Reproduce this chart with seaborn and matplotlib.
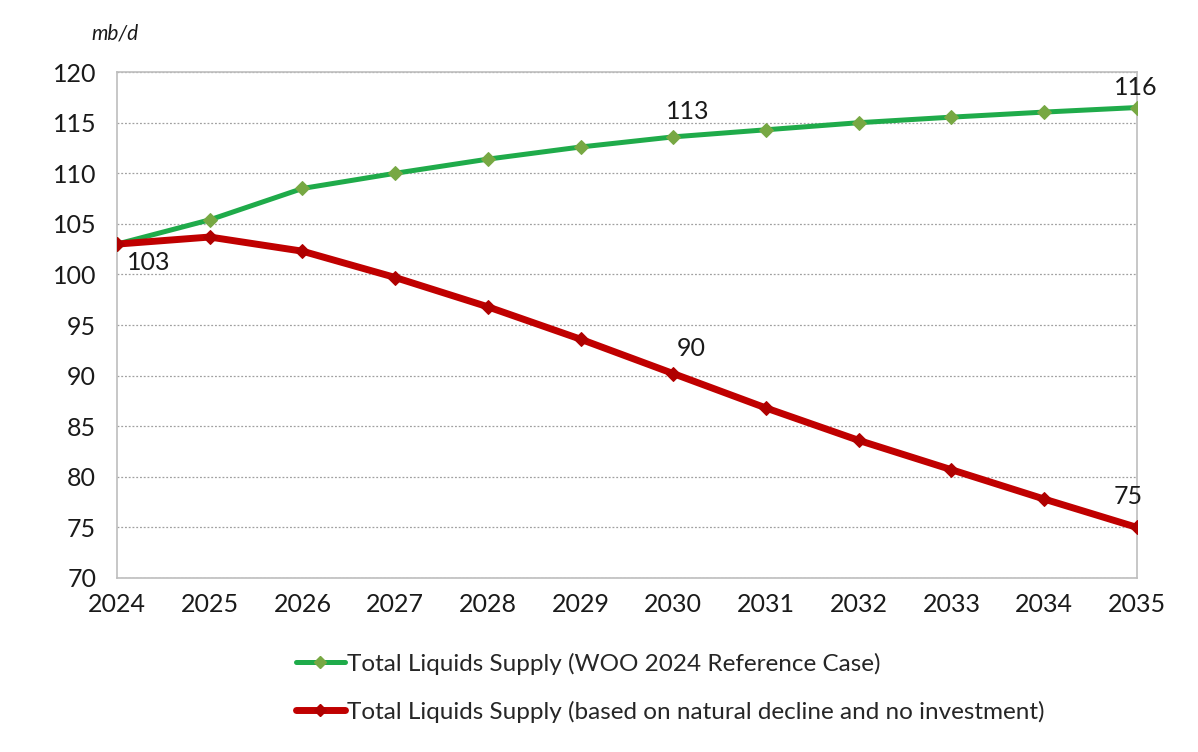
import matplotlib
matplotlib.use("Agg")
import matplotlib.pyplot as plt
import seaborn as sns
import pandas as pd
from matplotlib.lines import Line2D

years = [2024, 2025, 2026, 2027, 2028, 2029, 2030, 2031, 2032, 2033, 2034, 2035]
reference_case = [103.0, 105.4, 108.5, 110.0, 111.4, 112.6, 113.6, 114.3, 115.0, 115.55, 116.05, 116.5]
natural_decline = [103.0, 103.7, 102.3, 99.7, 96.8, 93.6, 90.2, 86.8, 83.6, 80.7, 77.8, 75.0]
series_names = ["Total Liquids Supply (WOO 2024 Reference Case)",
                "Total Liquids Supply (based on natural decline and no investment)"]
y_ticks = [70, 75, 80, 85, 90, 95, 100, 105, 110, 115, 120]

sns.set_theme(style="white")
plt.rcParams['font.family'] = ['Lato', 'DejaVu Sans']

df = pd.DataFrame({
    "year": years * 2,
    "value": reference_case + natural_decline,
    "series": [series_names[0]] * len(years) + [series_names[1]] * len(years),
})

fig = plt.figure(figsize=(11.98, 7.52), dpi=100)
ax = fig.add_axes([0.0977, 0.2314, 0.8513, 0.6727])

line_col = {series_names[0]: "#1fab4a", series_names[1]: "#c00000"}
mark_col = {series_names[0]: "#77a843", series_names[1]: "#b00000"}
lw = {series_names[0]: 3.6, series_names[1]: 5.0}

for name in series_names:
    sub = df[df.series == name]
    sns.lineplot(data=sub, x="year", y="value", ax=ax, color=line_col[name],
                 linewidth=lw[name], marker="D", markersize=7,
                 markerfacecolor=mark_col[name], markeredgecolor=mark_col[name],
                 legend=False, zorder=3 if name == series_names[0] else 4)

ax.set_xlim(years[0], years[-1])
ax.set_ylim(70, 120)
ax.set_yticks(y_ticks)
ax.set_xticks(years)
ax.set_xticklabels([str(y) for y in years], fontsize=18, color="#1a1a1a")
ax.set_yticklabels([str(v) for v in y_ticks], fontsize=18, color="#1a1a1a")
ax.set_xlabel("")
ax.set_ylabel("")
ax.grid(axis="y", linestyle=(0, (1.5, 1.5)), color="#a0a0a0", linewidth=0.9)
for s in ax.spines.values():
    s.set_color("#bdbdbd")
    s.set_linewidth(1.2)
ax.tick_params(axis="x", direction="out", length=6, color="#bdbdbd", width=1.2, pad=5)
ax.tick_params(axis="y", length=0, pad=15)

ax.text(-0.025, 1.065, "mb/d", transform=ax.transAxes, fontsize=15, style="italic", color="#1a1a1a")

ann = dict(fontsize=18, color="#1a1a1a")
ax.annotate("103", (2024, 103.0), xytext=(7, -5), textcoords="offset points", ha="left", va="top", **ann)
ax.annotate("113", (2030, reference_case[6]), xytext=(10, 10), textcoords="offset points", ha="center", va="bottom", **ann)
ax.annotate("116", (2035, reference_case[-1]), xytext=(-1, 6), textcoords="offset points", ha="center", va="bottom", **ann)
ax.annotate("90", (2030, natural_decline[6]), xytext=(13, 10), textcoords="offset points", ha="center", va="bottom", **ann)
ax.annotate("75", (2035, natural_decline[-1]), xytext=(-6, 14), textcoords="offset points", ha="center", va="bottom", **ann)

handles = [Line2D([], [], color=line_col[n], linewidth=lw[n], marker="D", markersize=6,
                  markerfacecolor=mark_col[n], markeredgecolor=mark_col[n]) for n in series_names]
fig.legend(handles, series_names, loc="upper left", bbox_to_anchor=(0.237, 0.148),
           frameon=False, fontsize=17.5, handlelength=2.0, handletextpad=0.1,
           labelspacing=1.05, borderpad=0)

fig.savefig("out.png", dpi=100)
